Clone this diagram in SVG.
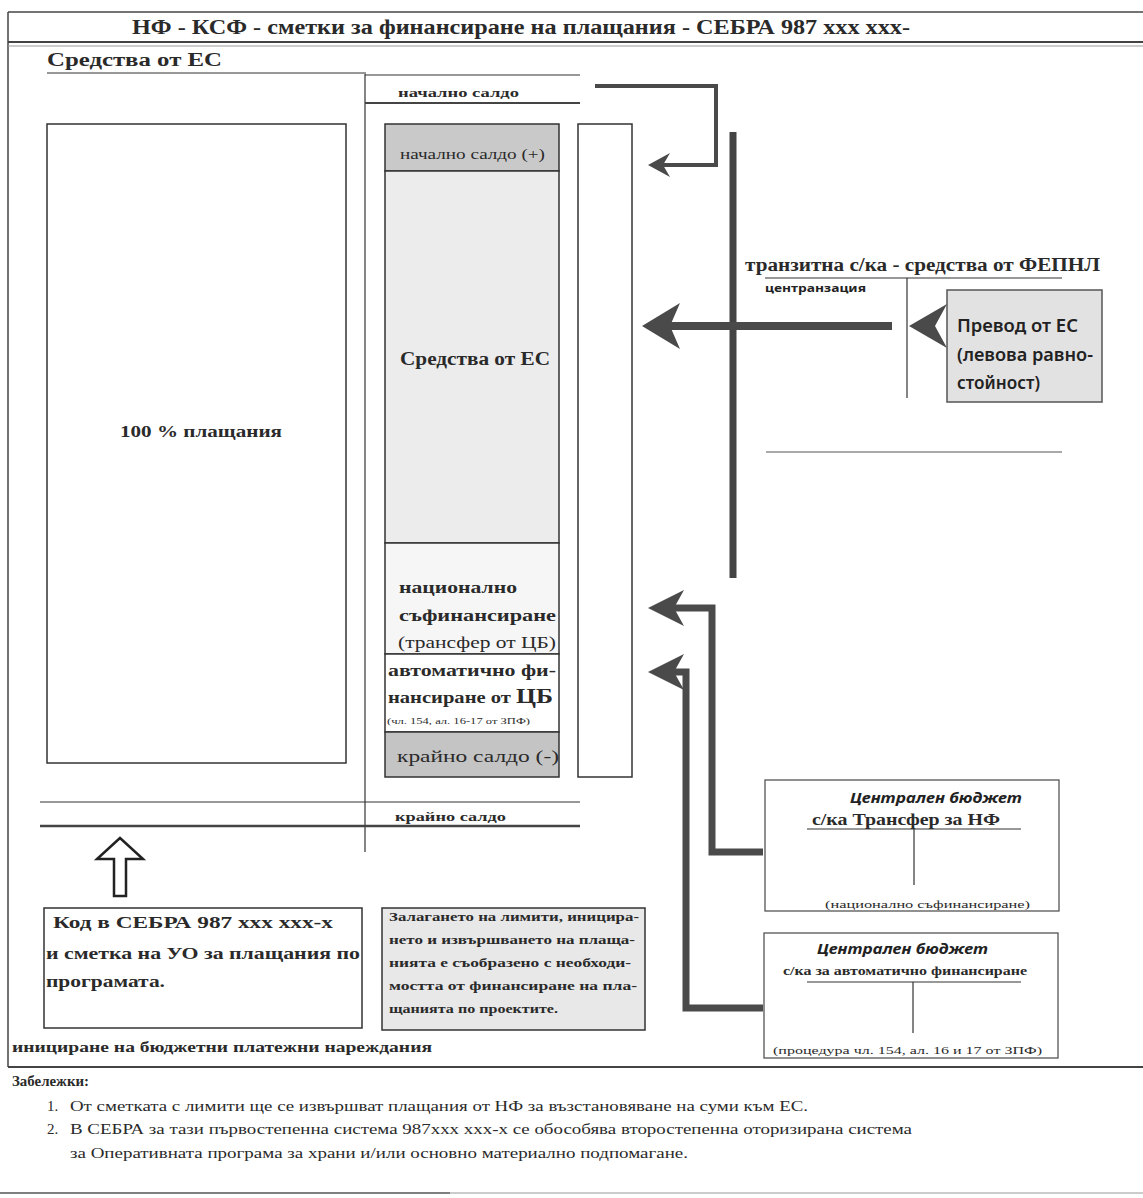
<svg xmlns="http://www.w3.org/2000/svg" width="1143" height="1198" viewBox="0 0 1143 1198">
<style>
.serif{font-family:"Liberation Serif","DejaVu Serif Condensed","Times New Roman","DejaVu Serif",serif;fill:#2a2a2a}
.sans{font-family:"Noto Sans","Open Sans","Liberation Sans",sans-serif;fill:#222}
.b{font-weight:bold}
.frame{stroke:#444;fill:none;stroke-width:1.5}
.thin{stroke:#333;fill:none;stroke-width:1.2}
.box{stroke:#333;stroke-width:1.5}
.conn{stroke:#4a4a4a;fill:none;stroke-linejoin:miter}
.head{fill:#4a4a4a}
</style>
<defs>
<marker id="arrS" markerUnits="userSpaceOnUse" viewBox="0 0 22 24" markerWidth="22" markerHeight="24" refX="10" refY="12" orient="auto"><path class="head" d="M0,0 L22,12 L0,24 L7,12 Z"/></marker>
<marker id="arrM" markerUnits="userSpaceOnUse" viewBox="0 0 36 36" markerWidth="36" markerHeight="36" refX="16" refY="18" orient="auto"><path class="head" d="M0,0 L36,18 L0,36 L10,18 Z"/></marker>
<marker id="arrL" markerUnits="userSpaceOnUse" viewBox="0 0 38 46" markerWidth="38" markerHeight="46" refX="10" refY="23" orient="auto"><path class="head" d="M0,0 L38,23 L0,46 L10,23 Z"/></marker>
</defs>
<rect width="1143" height="1198" fill="#fff"/>

<g id="frame">
<line class="frame" x1="8" y1="12" x2="1143" y2="12"/>
<line class="frame" x1="8" y1="12" x2="8" y2="1067"/>
<line x1="8" y1="42" x2="1143" y2="42" stroke="#444" stroke-width="2"/>
<line x1="8" y1="46" x2="1143" y2="46" stroke="#999" stroke-width="1"/>
<line x1="8" y1="1067" x2="1143" y2="1067" stroke="#444" stroke-width="1.8"/>
<line x1="0" y1="1193" x2="1143" y2="1193" stroke="#bbb" stroke-width="1.5"/>
<line x1="0" y1="1193" x2="450" y2="1193" stroke="#666" stroke-width="1.5"/>
<text class="serif b" x="132" y="34" font-size="20" textLength="778" lengthAdjust="spacingAndGlyphs">НФ - КСФ - сметки за финансиране на плащания - СЕБРА 987 xxx xxx-</text>
</g>

<g id="account">
<text class="serif b" x="47" y="66" font-size="18" textLength="175" lengthAdjust="spacingAndGlyphs">Средства от ЕС</text>
<line class="thin" x1="47" y1="73" x2="366" y2="73" stroke-width="1.5"/>
<line class="thin" x1="365" y1="74" x2="365" y2="852"/>
<line class="thin" x1="365" y1="75" x2="580" y2="75"/>
<text class="serif b" x="398" y="97" font-size="13" textLength="121" lengthAdjust="spacingAndGlyphs">начално салдо</text>
<line x1="365" y1="103" x2="580" y2="103" stroke="#444" stroke-width="2"/>
<line class="thin" x1="40" y1="802" x2="580" y2="802"/>
<line x1="40" y1="826" x2="580" y2="826" stroke="#444" stroke-width="2.5"/>
<text class="serif b" x="395" y="821" font-size="13" textLength="111" lengthAdjust="spacingAndGlyphs">крайно салдо</text>
</g>

<g id="payments">
<rect class="box" x="47" y="124" width="299" height="639" fill="#fff"/>
<text class="serif b" x="120" y="437" font-size="17" textLength="162" lengthAdjust="spacingAndGlyphs">100 % плащания</text>
</g>

<g id="column">
<rect class="box" x="385" y="124" width="174" height="47" fill="#c9c9c9"/>
<text class="serif" x="400" y="159" font-size="15" textLength="145" lengthAdjust="spacingAndGlyphs">начално салдо (+)</text>
<rect class="box" x="385" y="171" width="174" height="372" fill="#ececec"/>
<text class="serif b" x="400" y="365" font-size="18" textLength="150" lengthAdjust="spacingAndGlyphs">Средства от ЕС</text>
<rect class="box" x="385" y="543" width="174" height="111" fill="#f6f6f6"/>
<text class="serif b" x="399" y="593" font-size="17" textLength="118" lengthAdjust="spacingAndGlyphs">национално</text>
<text class="serif b" x="399" y="621" font-size="17" textLength="157" lengthAdjust="spacingAndGlyphs">съфинансиране</text>
<text class="serif" x="398" y="648" font-size="17" textLength="158" lengthAdjust="spacingAndGlyphs">(трансфер от ЦБ)</text>
<rect class="box" x="385" y="654" width="174" height="78" fill="#fff"/>
<text class="serif b" x="388" y="676" font-size="17" textLength="168" lengthAdjust="spacingAndGlyphs">автоматично фи-</text>
<text class="serif b" x="388" y="703" font-size="17"><tspan textLength="128" lengthAdjust="spacingAndGlyphs">нансиране от </tspan><tspan font-size="20" textLength="37" lengthAdjust="spacingAndGlyphs">ЦБ</tspan></text>
<text class="serif" x="387" y="724" font-size="9" textLength="143" lengthAdjust="spacingAndGlyphs">(чл. 154, ал. 16-17 от ЗПФ)</text>
<rect class="box" x="385" y="732" width="174" height="45" fill="#c4c4c4"/>
<text class="serif" x="397" y="762" font-size="17" textLength="162" lengthAdjust="spacingAndGlyphs">крайно салдо (-)</text>
</g>

<g id="limit">
<rect class="box" x="578" y="124" width="54" height="653" fill="#fff"/>
</g>

<g id="transit">
<text class="serif b" x="745" y="271" font-size="18" textLength="355" lengthAdjust="spacingAndGlyphs">транзитна с/ка - средства от ФЕПНЛ</text>
<line class="thin" x1="765" y1="278" x2="1062" y2="278"/>
<line class="thin" x1="907" y1="278" x2="907" y2="398"/>
<text class="sans b" x="765" y="292" font-size="10.5" textLength="101" lengthAdjust="spacingAndGlyphs">центранзация</text>
<line x1="766" y1="452" x2="1062" y2="452" stroke="#555" stroke-width="1.2"/>
</g>

<g id="eu-transfer">
<rect x="947" y="290" width="155" height="112" fill="#e2e2e2" stroke="#555" stroke-width="1.5"/>
<text class="sans" x="957" y="332" font-size="17" font-weight="600" textLength="121" lengthAdjust="spacingAndGlyphs">Превод от ЕС</text>
<text class="sans" x="957" y="361" font-size="17" font-weight="600" textLength="136" lengthAdjust="spacingAndGlyphs">(левова равно-</text>
<text class="sans" x="957" y="389" font-size="17" font-weight="600" textLength="83" lengthAdjust="spacingAndGlyphs">стойност)</text>
</g>

<g id="cb-transfer">
<rect x="765" y="780" width="294" height="131" fill="#fff" stroke="#555" stroke-width="1.3"/>
<text class="sans b" x="850" y="803" font-size="15" font-style="italic" textLength="172" lengthAdjust="spacingAndGlyphs">Централен бюджет</text>
<text class="serif b" x="812" y="825" font-size="16" fill="#444" textLength="188" lengthAdjust="spacingAndGlyphs">с/ка Трансфер за НФ</text>
<line class="thin" x1="807" y1="829" x2="1021" y2="829"/>
<line class="thin" x1="914" y1="829" x2="914" y2="885"/>
<text class="serif" x="825" y="908" font-size="11" fill="#555" textLength="205" lengthAdjust="spacingAndGlyphs">(национално съфинансиране)</text>
</g>

<g id="cb-auto">
<rect x="764" y="933" width="294" height="125" fill="#fff" stroke="#555" stroke-width="1.3"/>
<text class="sans b" x="817" y="954" font-size="15" font-style="italic" textLength="171" lengthAdjust="spacingAndGlyphs">Централен бюджет</text>
<text class="serif b" x="783" y="975" font-size="11.5" fill="#444" textLength="244" lengthAdjust="spacingAndGlyphs">с/ка за автоматично финансиране</text>
<line class="thin" x1="807" y1="982" x2="1021" y2="982"/>
<line class="thin" x1="913" y1="982" x2="913" y2="1033"/>
<text class="serif" x="773" y="1054" font-size="11" fill="#555" textLength="269" lengthAdjust="spacingAndGlyphs">(процедура чл. 154, ал. 16 и 17 от ЗПФ)</text>
</g>

<g id="sebra-code">
<path d="M120,838 L143,859 L126,859 L126,896 L114,896 L114,859 L97,859 Z" fill="#fff" stroke="#222" stroke-width="2.5" stroke-linejoin="miter"/>
<rect class="box" x="44" y="908" width="318" height="120" fill="#fff"/>
<text class="serif b" x="53" y="928" font-size="17" fill="#333" textLength="280" lengthAdjust="spacingAndGlyphs">Код в СЕБРА 987 xxx xxx-x</text>
<text class="serif b" x="46" y="959" font-size="17" fill="#333" textLength="314" lengthAdjust="spacingAndGlyphs">и сметка на УО за плащания по</text>
<text class="serif b" x="46" y="987" font-size="17" fill="#333" textLength="119" lengthAdjust="spacingAndGlyphs">програмата.</text>
</g>

<g id="limits-note">
<rect class="box" x="382" y="908" width="263" height="122" fill="#e8e8e8"/>
<text class="serif b" x="389" y="921" font-size="11.5" textLength="250" lengthAdjust="spacingAndGlyphs">Залагането на лимити, иницира-</text>
<text class="serif b" x="389" y="944" font-size="11.5" textLength="246" lengthAdjust="spacingAndGlyphs">нето и извършването на плаща-</text>
<text class="serif b" x="389" y="967" font-size="11.5" textLength="242" lengthAdjust="spacingAndGlyphs">нията е съобразено с необходи-</text>
<text class="serif b" x="389" y="990" font-size="11.5" textLength="248" lengthAdjust="spacingAndGlyphs">мостта от финансиране на пла-</text>
<text class="serif b" x="389" y="1013" font-size="11.5" textLength="169" lengthAdjust="spacingAndGlyphs">щанията по проектите.</text>
</g>

<text class="serif b" x="12" y="1052" font-size="15" textLength="420" lengthAdjust="spacingAndGlyphs" fill="#333">инициране  на бюджетни платежни нареждания</text>

<g id="notes">
<text class="serif b" x="12" y="1086" font-size="15" textLength="77" lengthAdjust="spacingAndGlyphs">Забележки:</text>
<text class="serif" x="47" y="1111" font-size="15">1.</text>
<text class="serif" x="70" y="1111" font-size="15" textLength="738" lengthAdjust="spacingAndGlyphs">От сметката с лимити ще се извършват плащания от НФ за възстановяване на суми към ЕС.</text>
<text class="serif" x="47" y="1134" font-size="15">2.</text>
<text class="serif" x="70" y="1134" font-size="15" textLength="842" lengthAdjust="spacingAndGlyphs">В СЕБРА за тази първостепенна система 987xxx xxx-x се обособява второстепенна оторизирана система</text>
<text class="serif" x="70" y="1158" font-size="15" textLength="618" lengthAdjust="spacingAndGlyphs">за Оперативната програма за храни и/или основно материално подпомагане.</text>
</g>

<g id="connectors">
<path class="conn" d="M595,86 H716 V165 H660" stroke-width="4" marker-end="url(#arrS)"/>
<line x1="733" y1="132" x2="733" y2="578" stroke="#444" stroke-width="7"/>
<path class="conn" d="M892,326 H670" stroke-width="8" marker-end="url(#arrL)"/>
<path class="head" d="M909,326 L947,304 L935,326 L947,348 Z"/>
<path class="conn" d="M763,852 H712 V608 H668" stroke-width="7" marker-end="url(#arrM)"/>
<path class="conn" d="M763,1008 H686 V672 H668" stroke-width="7" marker-end="url(#arrM)"/>
</g>
</svg>
